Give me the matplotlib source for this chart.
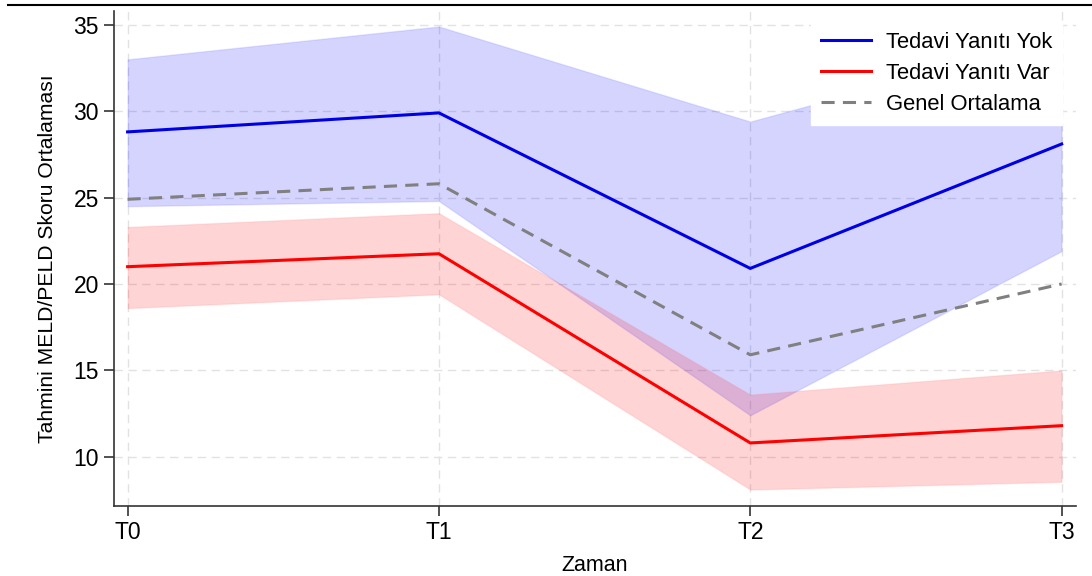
import matplotlib
matplotlib.use("Agg")
import matplotlib.pyplot as plt
from matplotlib.lines import Line2D

plt.rcParams["font.family"] = ["Liberation Sans", "DejaVu Sans"]

zaman = ["T0", "T1", "T2", "T3"]

yok_mean = [28.8, 29.9, 20.9, 28.1]
yok_low = [24.5, 24.8, 12.4, 21.9]
yok_high = [33.0, 34.9, 29.4, 34.3]

var_mean = [21.0, 21.75, 10.8, 11.8]
var_low = [18.6, 19.4, 8.1, 8.55]
var_high = [23.3, 24.1, 13.6, 15.0]

genel = [24.9, 25.8, 15.9, 20.0]

fig = plt.figure(figsize=(10.92, 5.76), dpi=100)
ax = fig.add_axes([0.104, 0.1215, 0.881, 0.8595])

x = list(range(len(zaman)))

ax.fill_between(x, yok_low, yok_high, color="#0000ff", alpha=0.17,
                edgecolor="#6a6aff", linewidth=1.0, zorder=2)
ax.fill_between(x, var_low, var_high, color="#ff0000", alpha=0.17,
                edgecolor="#ff8080", linewidth=1.0, zorder=2)

ax.plot(x, yok_mean, color="#0000e6", linewidth=2.2, label="Tedavi Yanıtı Yok", zorder=3)
ax.plot(x, var_mean, color="#ff0000", linewidth=2.2, label="Tedavi Yanıtı Var", zorder=3)
ax.plot(x, genel, color="#808080", linewidth=2.2, linestyle=(0, (4.3, 2.7)),
        label="Genel Ortalama", zorder=3)

ax.set_xlim(-0.045, 3.045)
ax.set_ylim(7.15, 35.8)
ax.set_xticks(x)
ax.set_xticklabels(zaman)
ax.set_yticks([10, 15, 20, 25, 30, 35])

ax.grid(True, color="#e2e2e2", linestyle=(0, (6, 4)), linewidth=1.0, zorder=0)
ax.set_axisbelow(True)

for side in ["top", "right"]:
    ax.spines[side].set_visible(False)
for side in ["left", "bottom"]:
    ax.spines[side].set_color("#333333")
    ax.spines[side].set_linewidth(1.2)

ax.tick_params(axis="both", labelsize=16.5, length=7, width=1.2, color="#333333")
ax.set_xlabel("Zaman", fontsize=15.5, labelpad=8)
ax.set_ylabel("Tahmini MELD/PELD Skoru Ortalaması", fontsize=15.2, labelpad=12)

leg = ax.legend(loc="upper right", fontsize=15.8, frameon=True, fancybox=False,
                framealpha=1.0, edgecolor="white", handlelength=2.3,
                handletextpad=0.65, labelspacing=0.45, borderpad=0.45,
                bbox_to_anchor=(1062 / 1092, 1 - 22 / 576),
                bbox_transform=fig.transFigure, borderaxespad=0)
leg.set_zorder(5)

fig.add_artist(Line2D([0.007, 1.0], [0.991, 0.991], color="black", linewidth=1.5))

fig.savefig("out.png", dpi=100)
